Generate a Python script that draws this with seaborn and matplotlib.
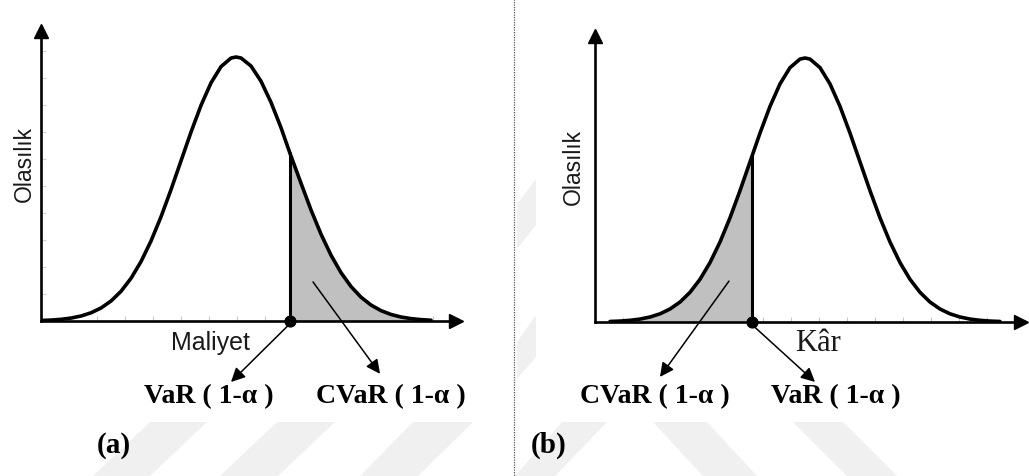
import numpy as np
import matplotlib
matplotlib.use("Agg")
import matplotlib.pyplot as plt
import seaborn as sns
from matplotlib.patches import Polygon

# ---------------- data ----------------
# Panel (a): cost distribution, shaded tail on the right
curve_a_x = [0, 10, 20, 30, 40, 50, 60, 70, 80, 90, 100, 110, 120, 130, 140, 150, 160,
             170, 180, 190, 195, 200, 210, 220, 230, 240, 249, 260, 270, 280, 290, 300,
             310, 320, 330, 340, 350, 360, 370, 380, 390]
curve_a_y = [0.002, 0.0035, 0.0063, 0.0111, 0.0189, 0.031, 0.0492, 0.0756, 0.1124,
             0.1617, 0.225, 0.303, 0.3946, 0.4974, 0.6065, 0.7155, 0.8167, 0.9019,
             0.9635, 0.9959, 1.0, 0.9962, 0.966, 0.9083, 0.8282, 0.7323, 0.635,
             0.522, 0.4208, 0.329, 0.2494, 0.1833, 0.1306, 0.0903, 0.0605, 0.0393,
             0.0248, 0.0151, 0.009, 0.0052, 0.0029]
var_a_x = 249
var_a_y = 0.635

# Panel (b): profit distribution, shaded tail on the left
curve_b_x = [15, 25, 35, 45, 55, 65, 75, 85, 95, 105, 115, 125, 135, 145, 155, 157,
             165, 175, 185, 195, 205, 210, 215, 225, 235, 245, 255, 265, 275, 285,
             295, 305, 315, 325, 335, 345, 355, 365, 375, 385, 395, 405]
curve_b_y = [0.002, 0.0035, 0.0063, 0.0111, 0.0189, 0.031, 0.0492, 0.0756, 0.1124,
             0.1617, 0.225, 0.303, 0.3946, 0.4974, 0.6065, 0.628, 0.7155, 0.8167,
             0.9019, 0.9635, 0.9959, 1.0, 0.9959, 0.9635, 0.9019, 0.8167, 0.7155,
             0.6065, 0.4974, 0.3946, 0.303, 0.225, 0.1617, 0.1124, 0.0756, 0.0492,
             0.031, 0.0189, 0.0111, 0.0063, 0.0035, 0.002]
var_b_x = 157
var_b_y = 0.628

label_y = "Olasılık"
label_cost = "Maliyet"
label_profit = "Kâr"
label_var = "VaR ( 1-α )"
label_cvar = "CVaR ( 1-α )"
panel_tags = ["(a)", "(b)"]

# ---------------- style ----------------
sns.set_theme(style="white")
plt.rcParams['font.family'] = ['Liberation Sans', 'DejaVu Sans']
SERIF = ['Liberation Serif', 'DejaVu Serif']

W, H = 1029, 477
fig = plt.figure(figsize=(W / 100, H / 100), dpi=100)
fig.patch.set_facecolor('white')

# background layer: faint watermark stripes + dotted separator
bg = fig.add_axes([0, 0, 1, 1], zorder=0)
bg.set_xlim(0, W)
bg.set_ylim(H, 0)
bg.axis('off')
stripes = [
    [(150, 423), (207, 423), (150, 477), (93, 477)],
    [(277, 423), (335, 423), (278, 477), (220, 477)],
    [(413, 423), (473, 423), (418, 477), (360, 477)],
    [(562, 423), (607, 423), (555, 477), (515, 477)],
    [(653, 423), (707, 423), (757, 477), (703, 477)],
    [(793, 423), (843, 423), (897, 477), (847, 477)],
    [(517, 205), (536, 180), (536, 226), (517, 250)],
    [(517, 343), (536, 316), (536, 358), (517, 380)],
]
for poly in stripes:
    bg.add_patch(Polygon(poly, closed=True, fc='#f0f0f0', ec='none'))
bg.plot([514, 514], [0, H], color='#555555', lw=0.9, ls=(0, (1, 1)))

PX_PER_UNIT = 264.0


def make_panel(left, right, top, bottom, yticks):
    ax = fig.add_axes([left / W, (H - bottom) / H, (right - left) / W, (bottom - top) / H],
                      zorder=1)
    ax.patch.set_alpha(0)
    ax.set_xlim(0, right - left)
    ax.set_ylim(0, (bottom - top) / PX_PER_UNIT)
    sns.despine(ax=ax)
    for s in ('left', 'bottom'):
        ax.spines[s].set_color('black')
        ax.spines[s].set_linewidth(1.9)
    ax.plot(1, 0, '>', color='black', ms=10, transform=ax.get_yaxis_transform(),
            clip_on=False, zorder=6)
    ax.plot(0, 1, '^', color='black', ms=10, transform=ax.get_xaxis_transform(),
            clip_on=False, zorder=6)
    ax.set_xticks(np.arange(28, right - left - 10, 28))
    ax.set_xticklabels([])
    ax.tick_params(axis='x', direction='in', length=3.5, width=0.8, color='#c8c8c8',
                   bottom=True)
    if yticks:
        ax.set_yticks(np.arange(27, bottom - top - 5, 27) / PX_PER_UNIT)
        ax.tick_params(axis='y', direction='in', length=3.5, width=0.8, color='#d2d2d2',
                       left=True)
    else:
        ax.set_yticks([])
    ax.set_yticklabels([])
    ax.set_xlabel('')
    ax.set_ylabel('')
    return ax


def arrow(ax, start, tip):
    ax.annotate('', xy=tip, xytext=start,
                arrowprops=dict(arrowstyle='-|>', color='black', lw=1.1,
                                mutation_scale=21, shrinkA=0, shrinkB=0),
                annotation_clip=False, zorder=7)


def draw_curve(ax, xs, ys, var_x, var_y, right_tail):
    xs = np.asarray(xs, float)
    ys = np.asarray(ys, float)
    m = xs >= var_x if right_tail else xs <= var_x
    ax.fill_between(xs[m], ys[m], 0, color='#c0c0c0', lw=0, zorder=1)
    sns.lineplot(x=xs, y=ys, ax=ax, color='black', lw=2.6, zorder=3,
                 solid_joinstyle='round', solid_capstyle='round')
    ax.plot([var_x, var_x], [0, var_y], color='black', lw=2.2, zorder=4)
    ax.scatter([var_x], [0], s=60, color='black', zorder=8, clip_on=False)


# ---------------- panel (a) ----------------
ax_a = make_panel(41, 456, 32, 322, yticks=True)
draw_curve(ax_a, curve_a_x, curve_a_y, var_a_x, var_a_y, right_tail=True)
arrow(ax_a, (var_a_x, -0.01), (190, -0.231))
arrow(ax_a, (272, 0.148), (339, -0.20))
ax_a.text(169, -0.08, label_cost, ha='center', va='center', fontsize=18,
          color='#1a1a1a')
ax_a.text(-17, 0.598, label_y, ha='center', va='center', rotation=90,
          fontsize=16.5, color='#1a1a1a')
ax_a.text(168, -0.284, label_var, ha='center', va='center', fontsize=20,
          fontweight='bold', family=SERIF, color='black')
ax_a.text(350, -0.284, label_cvar, ha='center', va='center', fontsize=20,
          fontweight='bold', family=SERIF, color='black')
ax_a.text(73, -0.466, panel_tags[0], ha='center', va='center', fontsize=21,
          fontweight='bold', family=SERIF, color='black')

# ---------------- panel (b) ----------------
ax_b = make_panel(595, 1021, 37, 323, yticks=False)
draw_curve(ax_b, curve_b_x, curve_b_y, var_b_x, var_b_y, right_tail=False)
arrow(ax_b, (134, 0.155), (65, -0.208))
arrow(ax_b, (var_b_x, -0.01), (220, -0.227))
ax_b.text(223, -0.076, label_profit, ha='center', va='center', fontsize=22,
          family=SERIF, color='#1a1a1a')
ax_b.text(-22, 0.59, label_y, ha='center', va='center', rotation=90,
          fontsize=16.5, color='#1a1a1a')
ax_b.text(60, -0.28, label_cvar, ha='center', va='center', fontsize=20,
          fontweight='bold', family=SERIF, color='black')
ax_b.text(241, -0.28, label_var, ha='center', va='center', fontsize=20,
          fontweight='bold', family=SERIF, color='black')
ax_b.text(-46, -0.462, panel_tags[1], ha='center', va='center', fontsize=21,
          fontweight='bold', family=SERIF, color='black')

fig.savefig('out.png', dpi=100, facecolor='white')
